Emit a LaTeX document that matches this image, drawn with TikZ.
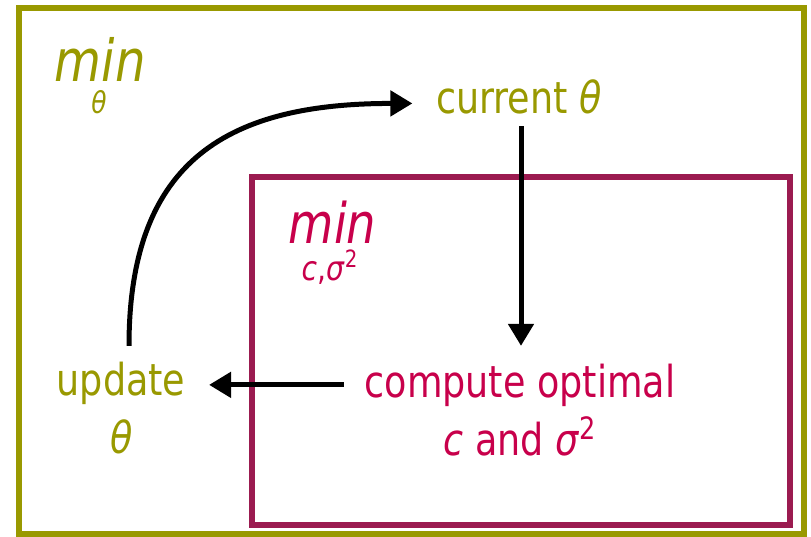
\documentclass[tikz,border=0pt]{standalone}
\usepackage{fontspec}
\setmainfont{DejaVu Sans}[FakeStretch=0.83]
\usetikzlibrary{arrows.meta}
\definecolor{olivec}{HTML}{999900}
\definecolor{magtext}{HTML}{C8004B}
\definecolor{magbox}{HTML}{9B1B50}
\tikzset{every picture/.style={line width=0.75pt}}
\tikzset{
  lbl/.style={inner sep=0pt, anchor=base},
  flow/.style={line width=2.5pt, -{Triangle[length=11pt,width=12.5pt]}},
}

\begin{document}
\begin{tikzpicture}[x=0.5pt, y=-0.5pt]
\useasboundingbox (0,0) rectangle (811,537);
\fill[white] (0,0) rectangle (811,537);
% boxes
\draw[olivec, line width=2.7pt] (19,8) rectangle (804,534);
\draw[magbox, line width=2.6pt] (252,177) rectangle (790,525);

% outer level
\node[lbl, olivec, font=\fontsize{29}{33}\selectfont\itshape, anchor=base west] (outermin) at (54,81) {min};
\node[lbl, olivec, font=\fontsize{15}{18}\selectfont\itshape] (outersub) at (99,113) {θ};
\node[lbl, olivec, font=\fontsize{22}{26}\selectfont] (current) at (519,113) {current \textit{θ}};
\node[lbl, olivec, font=\fontsize{22}{26}\selectfont] (update) at (121,395) {update};
\node[lbl, olivec, font=\fontsize{22}{26}\selectfont\itshape] (updtheta) at (122,453) {θ};

% inner level
\node[lbl, magtext, font=\fontsize{28}{32}\selectfont\itshape, anchor=base west] (innermin) at (288,243) {min};
\node[lbl, magtext, font=\fontsize{17}{20}\selectfont] (innersub) at (330,280) {\textit{c},\textit{σ}\textsuperscript{2}};
\node[lbl, magtext, font=\fontsize{22}{26}\selectfont] (compute) at (520,397) {compute optimal};
\node[lbl, magtext, font=\fontsize{22}{26}\selectfont] (computeb) at (520,455) {\textit{c} and \textit{σ}\textsuperscript{2}};

% connectors
\draw[flow, shorten <=6pt, shorten >=8.5pt] ([xshift=1pt]current.south) -- ([xshift=1pt]current.south |- compute.north);
\draw[flow, shorten <=10pt, shorten >=11.5pt] (compute.west) -- (compute.west -| update.east);
\draw[flow, shorten <=7.5pt, shorten >=11.5pt] ([xshift=4pt]update.north) to[out=90, in=180, looseness=1.3] ([yshift=-3.5pt]current.west);
\end{tikzpicture}
\end{document}
